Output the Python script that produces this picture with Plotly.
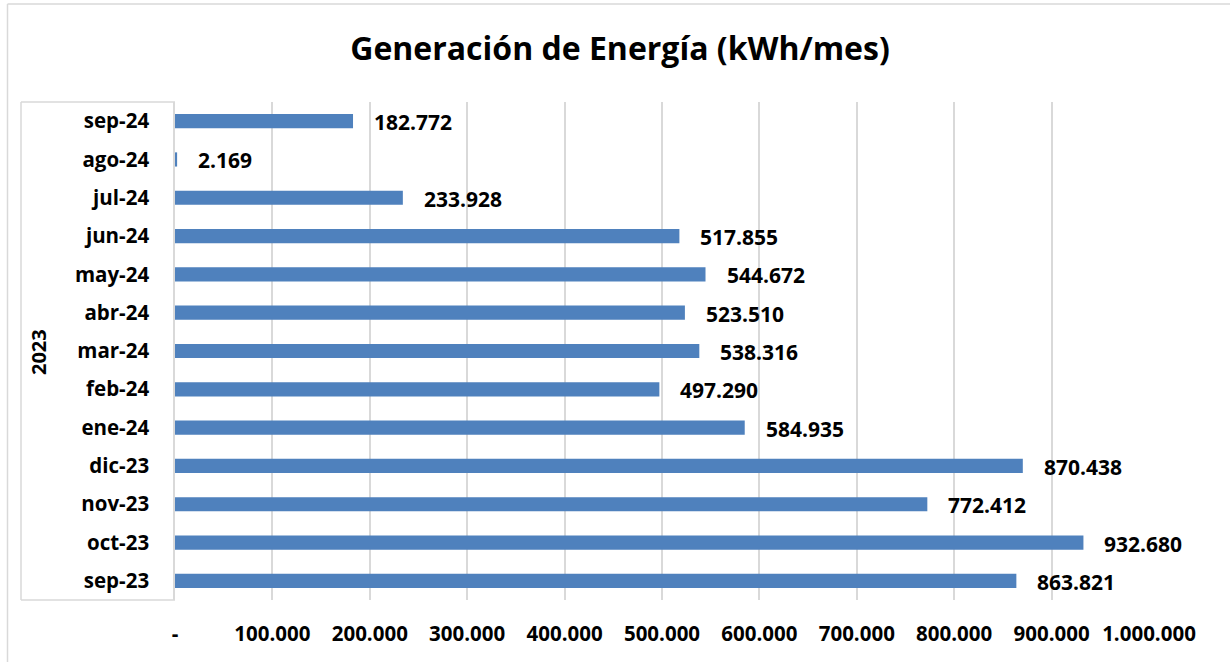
import plotly.graph_objects as go

months = ["sep-23", "oct-23", "nov-23", "dic-23", "ene-24", "feb-24", "mar-24",
          "abr-24", "may-24", "jun-24", "jul-24", "ago-24", "sep-24"]
energy = [863821, 932680, 772412, 870438, 584935, 497290, 538316,
          523510, 544672, 517855, 233928, 2169, 182772]
tick_vals = [0, 100000, 200000, 300000, 400000, 500000, 600000, 700000, 800000, 900000, 1000000]
tick_text = ["-", "100.000", "200.000", "300.000", "400.000", "500.000", "600.000",
             "700.000", "800.000", "900.000", "1.000.000"]
group_label = "2023"
title = "Generación de Energía (kWh/mes)"

def fmt(v):
    return f"{v:,}".replace(",", ".")

W, H = 1230, 662
L, R, T, B = 175, 81, 102, 62
FONT = "'Open Sans', Lato, sans-serif"
GRID = "#d9d9d9"

fig = go.Figure()
fig.add_bar(y=months, x=energy, orientation="h", width=0.37,
            marker=dict(color="#4F81BD", line=dict(width=0)), hoverinfo="x+y")

for m, v in zip(months, energy):
    fig.add_annotation(x=v, y=m, text=f"<b>{fmt(v)}</b>", showarrow=False,
                       xanchor="left", yanchor="middle", xshift=19, yshift=-1,
                       font=dict(family=FONT, size=21, color="#000000"))

pw = W - L - R
ph = H - T - B
def px(x):
    return (x - L) / pw
def py(y):
    return (H - B - y) / ph

# group label
fig.add_annotation(x=px(38), y=py(352), xref="paper", yref="paper",
                   xanchor="center", yanchor="middle",
                   text=f"<b>{group_label}</b>", textangle=-90, showarrow=False,
                   font=dict(family=FONT, size=20, color="#000000"))

shapes = [
    # category box
    dict(type="line", xref="paper", yref="paper", x0=px(21), x1=px(175), y0=py(102), y1=py(102),
         line=dict(color=GRID, width=1.5)),
    dict(type="line", xref="paper", yref="paper", x0=px(21), x1=px(175), y0=py(600), y1=py(600),
         line=dict(color=GRID, width=1.5)),
    dict(type="line", xref="paper", yref="paper", x0=px(21), x1=px(21), y0=py(102), y1=py(600),
         line=dict(color=GRID, width=1.5)),
    # chart border
    dict(type="line", xref="paper", yref="paper", x0=px(7.5), x1=px(1232), y0=py(4), y1=py(4),
         line=dict(color=GRID, width=1.5)),
    dict(type="line", xref="paper", yref="paper", x0=px(7.5), x1=px(7.5), y0=py(4), y1=py(664),
         line=dict(color=GRID, width=1.5)),
]

fig.update_layout(
    width=W, height=H,
    margin=dict(l=L, r=R, t=T, b=B, pad=0),
    paper_bgcolor="white", plot_bgcolor="white",
    separators=",.",
    showlegend=False,
    bargap=0.63,
    title=dict(text=f"<b>{title}</b>", x=620 / W, xanchor="center", y=1 - 49 / H,
               yanchor="middle", xref="container", yref="container",
               font=dict(family=FONT, size=32, color="#000000")),
    xaxis=dict(range=[0, 1000000], tickvals=tick_vals,
               ticktext=[f"<b>{t}</b>" for t in tick_text],
               showgrid=True, gridcolor=GRID, gridwidth=1.5, zeroline=False,
               showline=False, ticks="", ticklabelstandoff=19,
               tickfont=dict(family=FONT, size=20.5, color="#000000"), fixedrange=True),
    yaxis=dict(categoryorder="array", categoryarray=months, showgrid=False,
               showline=True, linecolor=GRID, linewidth=1.5, ticks="",
               ticklabelstandoff=20, tickprefix="<b>", ticksuffix="</b>",
               tickfont=dict(family=FONT, size=20.5, color="#000000"), fixedrange=True),
    shapes=shapes,
)

fig.write_html("out.html", config={"displayModeBar": False},
               post_script="document.body.style.margin='0';document.body.style.overflow='hidden';")
